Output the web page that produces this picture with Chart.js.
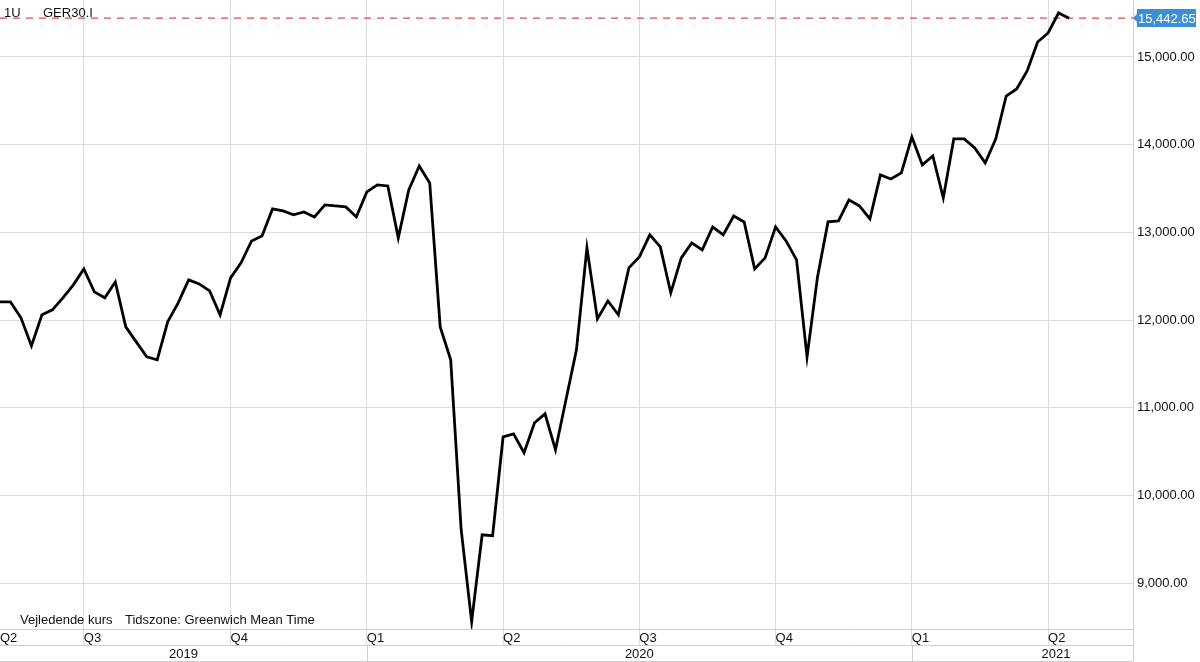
<!DOCTYPE html>
<html>
<head>
<meta charset="utf-8">
<script src="https://cdn.jsdelivr.net/npm/chart.js@4.4.1/dist/chart.umd.min.js"></script>
<style>
  html, body { margin:0; padding:0; background:#fff; }
  #wrap { width:1200px; height:662px; }
</style>
</head>
<body>
<div id="wrap"><canvas id="chart" width="1200" height="662"></canvas></div>
<script>
const period = '1U';
const symbol = 'GER30.I';

// weekly closes, GER30 May 2019 - Apr 2021
const closes = [
  12207, 12207, 12025, 11705, 12059, 12116, 12253, 12401, 12583, 12321,
  12253, 12435, 11922, 11751, 11580, 11546, 11979, 12196, 12458, 12412,
  12332, 12059, 12481, 12652, 12902, 12959, 13267, 13244, 13199, 13233,
  13176, 13313, 13301, 13290, 13176, 13461, 13541, 13529, 12937, 13484,
  13757, 13564, 11922, 11546, 9608, 8559, 9551, 9540, 10668, 10702,
  10486, 10828, 10930, 10520, 11090, 11660, 12823, 12013, 12218, 12059,
  12595, 12720, 12971, 12834, 12310, 12709, 12880, 12800, 13062, 12971,
  13187, 13119, 12583, 12709, 13062, 12902, 12686, 11580, 12492, 13119,
  13130, 13370, 13301, 13153, 13655, 13609, 13678, 14088, 13769, 13871,
  13393, 14065, 14065, 13963, 13792, 14065, 14555, 14635, 14840, 15171,
  15274, 15502, 15442.65
];

const quarterLabels = ['Q2', 'Q3', 'Q4', 'Q1', 'Q2', 'Q3', 'Q4', 'Q1', 'Q2'];
const quarterStarts = [0, 8, 22, 35, 48, 61, 74, 87, 100];   // week index
const years = ['2019', '2020', '2021'];
const yearStarts = [0, 35, 87];
const priceTicks = [9000, 10000, 11000, 12000, 13000, 14000, 15000];
const footNotes = ['Vejledende kurs', 'Tidszone: Greenwich Mean Time'];

const FONT = '"Liberation Sans", Helvetica, Arial, sans-serif';
const GRID = '#dcdcdc';
const BORDER = '#cecece';
const TEXT = '#111';

const fmt = v => v.toLocaleString('en-US', {minimumFractionDigits: 2, maximumFractionDigits: 2});
const last = closes[closes.length - 1];
const xMax = 108.1;

// price tag, header, footer and year row
const decorations = {
  id: 'decorations',
  afterDraw(chart) {
    const {ctx, chartArea: area, scales: {x, y}} = chart;
    ctx.save();
    ctx.font = '13px ' + FONT;

    // header
    ctx.fillStyle = TEXT;
    ctx.textBaseline = 'middle';
    ctx.textAlign = 'left';
    ctx.fillText(period, 4, 13);
    ctx.fillText(symbol, 43, 13);

    // footer notes
    ctx.fillText(footNotes[0], 20, 620);
    ctx.fillText(footNotes[1], 125, 620);

    // last price tag
    const py = Math.round(y.getPixelForValue(last));
    const bx = area.right + 4;
    ctx.fillStyle = '#3b8fd9';
    ctx.beginPath();
    ctx.moveTo(area.right, py);
    ctx.lineTo(bx, py - 4);
    ctx.lineTo(bx, py - 9);
    ctx.lineTo(bx + 59, py - 9);
    ctx.lineTo(bx + 59, py + 9);
    ctx.lineTo(bx, py + 9);
    ctx.lineTo(bx, py + 4);
    ctx.closePath();
    ctx.fill();
    ctx.fillStyle = '#fff';
    ctx.fillText(fmt(last), bx + 1, py + 1);

    // year row
    const rowTop = area.bottom + 16;
    const rowBot = area.bottom + 32;
    ctx.strokeStyle = BORDER;
    ctx.lineWidth = 1;
    ctx.beginPath();
    ctx.moveTo(0, rowTop + 0.5); ctx.lineTo(area.right, rowTop + 0.5);
    ctx.moveTo(0, rowBot + 0.5); ctx.lineTo(area.right, rowBot + 0.5);
    ctx.moveTo(area.right + 0.5, area.bottom); ctx.lineTo(area.right + 0.5, rowBot);
    yearStarts.forEach((s, i) => {
      if (i === 0) return;
      const px = Math.round(x.getPixelForValue(s)) + 0.5;
      ctx.moveTo(px, rowTop); ctx.lineTo(px, rowBot);
    });
    ctx.stroke();

    ctx.fillStyle = TEXT;
    ctx.textAlign = 'center';
    years.forEach((yr, i) => {
      const a = Math.max(x.getPixelForValue(yearStarts[i]), 0);
      const b = i + 1 < yearStarts.length ? x.getPixelForValue(yearStarts[i + 1]) : chart.width;
      ctx.fillText(yr, (a + b) / 2, rowTop + 9);
    });
    ctx.restore();
  }
};

new Chart(document.getElementById('chart'), {
  type: 'line',
  data: {
    datasets: [
      {
        data: closes.map((c, i) => ({x: i, y: c})),
        borderColor: '#000',
        borderWidth: 2.8,
        pointRadius: 0,
        tension: 0,
        borderJoinStyle: 'miter'
      },
      {
        data: [{x: 0, y: last}, {x: xMax, y: last}],
        borderColor: '#d24e58',
        borderWidth: 1.2,
        borderDash: [7, 6],
        pointRadius: 0
      }
    ]
  },
  options: {
    responsive: false,
    animation: false,
    layout: {padding: 0},
    plugins: {legend: {display: false}, tooltip: {enabled: false}},
    scales: {
      x: {
        type: 'linear',
        position: 'bottom',
        min: 0,
        max: xMax,
        afterBuildTicks: s => { s.ticks = quarterStarts.map(v => ({value: v})); },
        afterFit: s => { s.height = 33; s.paddingLeft = 0; s.paddingRight = 0; },
        grid: {
          color: c => c.index === 0 ? 'rgba(0,0,0,0)' : GRID,
          lineWidth: 1,
          drawTicks: true,
          tickLength: 16
        },
        border: {display: true, color: BORDER},
        ticks: {
          autoSkip: false,
          maxRotation: 0,
          align: 'start',
          padding: -14,
          color: TEXT,
          font: {family: FONT, size: 13},
          callback: (v, i) => quarterLabels[i]
        }
      },
      y: {
        position: 'right',
        min: 8476,
        max: 15650,
        afterBuildTicks: s => { s.ticks = priceTicks.map(v => ({value: v})); },
        afterFit: s => { s.width = 67; s.paddingTop = 0; s.paddingBottom = 0; },
        grid: {color: GRID, lineWidth: 1, drawTicks: false},
        border: {display: true, color: BORDER},
        ticks: {
          padding: 4,
          color: TEXT,
          font: {family: FONT, size: 13},
          callback: v => fmt(v)
        }
      }
    }
  },
  plugins: [decorations]
});
</script>
</body>
</html>
